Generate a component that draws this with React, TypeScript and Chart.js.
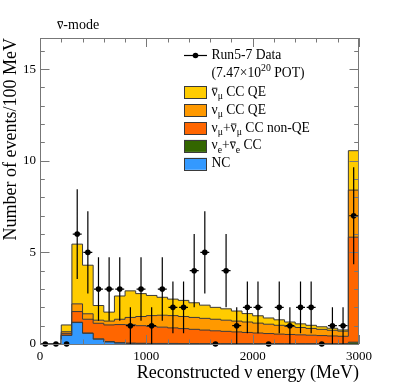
import React, { useEffect, useRef } from 'react';
import { Chart, registerables } from 'chart.js';

Chart.register(...registerables);

// ---------------- data ----------------
const binEdges = [0, 100, 200, 300, 400, 500, 600, 700, 800, 900, 1000, 1100, 1200, 1300, 1400, 1500,
  1600, 1700, 1800, 1900, 2000, 2100, 2200, 2300, 2400, 2500, 2600, 2700, 2800, 2900, 3000];

const binCenters = [50, 150, 250, 350, 450, 550, 650, 750, 850, 950, 1050, 1150, 1250, 1350, 1450,
  1550, 1650, 1750, 1850, 1950, 2050, 2150, 2250, 2350, 2450, 2550, 2650, 2750, 2850, 2950];

const dataCounts = [0, 0, 0, 6, 5, 3, 3, 3, 1, 3, 1, 3, 2, 2, 4, 5, 0, 4, 1, 2, 2, 0, 2, 1, 2, 2, 0, 1, 1, 7];
const dataErrors = [0, 0, 0, 2.45, 2.24, 1.73, 1.73, 1.73, 1, 1.73, 1, 1.73, 1.41, 1.41, 2, 2.24, 0, 2, 1,
  1.41, 1.41, 0, 1.41, 1, 1.41, 1.41, 0, 1, 1, 2.65];

// stacked MC components (events per bin), bottom to top
const ncValues = [0, 0, 0.47, 1.17, 0.58, 0.26, 0.11, 0.05, 0.03, 0.02, 0.01, 0.01, 0.01, 0, 0, 0,
  0, 0, 0, 0, 0, 0, 0, 0, 0, 0, 0, 0, 0, 0];
const nueCCValues = [0, 0, 0.01, 0.02, 0.02, 0.02, 0.02, 0.02, 0.02, 0.02, 0.02, 0.02, 0.02, 0.02, 0.02,
  0.02, 0.02, 0.02, 0.02, 0.02, 0.02, 0.02, 0.02, 0.02, 0.02, 0.02, 0.02, 0.02, 0.02, 0.1];
const nonQEValues = [0, 0, 0.1, 0.58, 0.75, 0.85, 0.91, 0.99, 1.0, 0.96, 0.93, 0.89, 0.85, 0.82, 0.78,
  0.74, 0.7, 0.67, 0.64, 0.61, 0.58, 0.55, 0.52, 0.5, 0.48, 0.46, 0.44, 0.42, 0.4, 5.73];
const numuQEValues = [0, 0, 0.09, 0.42, 0.3, 0.17, 0.21, 0.29, 0.4, 0.5, 0.59, 0.65, 0.67, 0.66, 0.65,
  0.64, 0.63, 0.61, 0.59, 0.57, 0.54, 0.51, 0.48, 0.44, 0.4, 0.37, 0.34, 0.31, 0.28, 2.57];
const numubarQEValues = [0, 0, 0.37, 3.26, 2.65, 0.8, 0.49, 1.27, 1.45, 1.25, 1.1, 0.98, 0.9, 0.88, 0.8,
  0.72, 0.65, 0.62, 0.55, 0.46, 0.4, 0.34, 0.3, 0.24, 0.2, 0.17, 0.14, 0.11, 0.07, 2.15];

const xMajorTicks = [0, 1000, 2000, 3000];
const yMajorTicks = [0, 5, 10, 15];

const X_MIN = 0;
const X_MAX = 3000;
const Y_MIN = 0;
const Y_MAX = 16.7;

const FONT = '"Liberation Serif", "Times New Roman", serif';
const EDGE = '#3a3a3a';

const layers = [
  { name: 'NC', values: ncValues, color: '#3399ff' },
  { name: 'nue', values: nueCCValues, color: '#336600' },
  { name: 'nonQE', values: nonQEValues, color: '#ff6600' },
  { name: 'numuQE', values: numuQEValues, color: '#ff9900' },
  { name: 'numubarQE', values: numubarQEValues, color: '#ffcc00' },
];

function cumulate(arrs: number[][]): number[][] {
  const out: number[][] = [];
  let run = arrs[0].map(() => 0);
  for (const a of arrs) {
    run = run.map((v, i) => v + a[i]);
    out.push(run.slice());
  }
  return out;
}

function stepPoints(vals: number[]) {
  const pts = vals.map((v, i) => ({ x: binEdges[i], y: v }));
  pts.push({ x: binEdges[vals.length], y: vals[vals.length - 1] });
  return pts;
}

type Seg = { t: string; sub?: boolean; sup?: boolean; bar?: boolean };

function drawRich(ctx: CanvasRenderingContext2D, segs: Seg[], x: number, y: number, size: number) {
  let cx = x;
  for (const s of segs) {
    const fs = s.sub || s.sup ? size * 0.72 : size;
    ctx.font = `${fs}px ${FONT}`;
    const dy = s.sub ? size * 0.25 : s.sup ? -size * 0.47 : 0;
    ctx.fillText(s.t, cx, y + dy);
    const w = ctx.measureText(s.t).width;
    if (s.bar) {
      ctx.save();
      ctx.lineWidth = 0.9;
      ctx.beginPath();
      ctx.moveTo(cx + 0.5, y - size * 0.55);
      ctx.lineTo(cx + w - 0.3, y - size * 0.55);
      ctx.stroke();
      ctx.restore();
    }
    cx += w;
  }
}

const decorPlugin = {
  id: 'decor',
  afterDatasetsDraw(chart: any) {
    const { ctx, chartArea: a, scales } = chart;
    const xs = scales.x;
    const ys = scales.y;
    ctx.save();
    // frame
    ctx.strokeStyle = '#777';
    ctx.lineWidth = 1;
    ctx.strokeRect(Math.round(a.left) + 0.5, Math.round(a.top) + 0.5, Math.round(a.right - a.left) - 1, Math.round(a.bottom - a.top));
    // inward ticks
    ctx.beginPath();
    for (let v = X_MIN; v <= X_MAX; v += 200) {
      const px = Math.round(xs.getPixelForValue(v)) + 0.5;
      const len = xMajorTicks.includes(v) ? 9 : 4.5;
      ctx.moveTo(px, a.bottom);
      ctx.lineTo(px, a.bottom - len);
      ctx.moveTo(px, a.top);
      ctx.lineTo(px, a.top + len);
    }
    for (let v = 0; v <= 16; v += 1) {
      const py = Math.round(ys.getPixelForValue(v)) + 0.5;
      const len = yMajorTicks.includes(v) ? 9.5 : 4.8;
      ctx.moveTo(a.left, py);
      ctx.lineTo(a.left + len, py);
      ctx.moveTo(a.right, py);
      ctx.lineTo(a.right - len, py);
    }
    ctx.stroke();
    // error bars
    ctx.strokeStyle = '#000';
    ctx.lineWidth = 1.2;
    ctx.beginPath();
    binCenters.forEach((c, i) => {
      const n = dataCounts[i];
      if (n <= 0) return;
      const e = dataErrors[i];
      const px = xs.getPixelForValue(c);
      const py = ys.getPixelForValue(n);
      ctx.moveTo(px, ys.getPixelForValue(n - e));
      ctx.lineTo(px, ys.getPixelForValue(n + e));
      ctx.moveTo(xs.getPixelForValue(c - 42), py);
      ctx.lineTo(xs.getPixelForValue(c + 42), py);
    });
    ctx.stroke();
    ctx.restore();
  },
  afterDraw(chart: any) {
    const { ctx } = chart;
    ctx.save();
    ctx.fillStyle = '#000';
    ctx.strokeStyle = '#000';
    ctx.textBaseline = 'alphabetic';
    ctx.textAlign = 'left';
    // title
    drawRich(ctx, [{ t: 'ν', bar: true }, { t: '-mode' }], 57, 29.3, 14);

    // legend
    const tx = 211.5;
    const bx = 184;
    const bw = 23;
    const fs = 13.6;
    // data entry
    ctx.lineWidth = 1.2;
    ctx.beginPath();
    ctx.moveTo(bx, 55.5);
    ctx.lineTo(bx + bw, 55.5);
    ctx.stroke();
    ctx.beginPath();
    ctx.arc(bx + bw / 2, 55.5, 2.8, 0, Math.PI * 2);
    ctx.fill();
    drawRich(ctx, [{ t: 'Run5-7 Data' }], tx, 59.3, fs);
    drawRich(ctx, [{ t: '(7.47×10' }, { t: '20', sup: true }, { t: ' POT)' }], tx, 77.2, fs);

    const rows: { color: string; segs: Seg[] }[] = [
      { color: '#ffcc00', segs: [{ t: 'ν', bar: true }, { t: 'μ', sub: true }, { t: ' CC QE' }] },
      { color: '#ff9900', segs: [{ t: 'ν' }, { t: 'μ', sub: true }, { t: ' CC QE' }] },
      { color: '#ff6600', segs: [{ t: 'ν' }, { t: 'μ', sub: true }, { t: '+' }, { t: 'ν', bar: true }, { t: 'μ', sub: true }, { t: ' CC non-QE' }] },
      { color: '#336600', segs: [{ t: 'ν' }, { t: 'e', sub: true }, { t: '+' }, { t: 'ν', bar: true }, { t: 'e', sub: true }, { t: ' CC' }] },
      { color: '#3399ff', segs: [{ t: 'NC' }] },
    ];
    rows.forEach((r, i) => {
      const base = 95.7 + i * 17.9;
      ctx.fillStyle = r.color;
      ctx.fillRect(bx, base - 9.5, bw, 12);
      ctx.strokeStyle = EDGE;
      ctx.lineWidth = 1;
      ctx.strokeRect(bx + 0.5, Math.round(base - 9.5) + 0.5, bw - 1, 12);
      ctx.fillStyle = '#000';
      ctx.strokeStyle = '#000';
      drawRich(ctx, r.segs, tx, base, fs);
    });
    ctx.restore();
  },
};

export default function App() {
  const ref = useRef<HTMLCanvasElement>(null);
  useEffect(() => {
    const cum = cumulate(layers.map((l) => l.values));
    const stackSets = layers.map((l, i) => ({
      type: 'line' as const,
      label: l.name,
      data: stepPoints(cum[i]),
      stepped: 'before' as const,
      fill: i === 0 ? 'origin' : '-1',
      backgroundColor: l.color,
      borderColor: EDGE,
      borderWidth: 1,
      pointRadius: 0,
      pointHoverRadius: 0,
      order: 1,
    }));
    const dataSet = {
      type: 'line' as const,
      label: 'Data',
      data: binCenters.map((c, i) => ({ x: c, y: dataCounts[i] })),
      showLine: false,
      pointRadius: 2.8,
      pointHoverRadius: 2.8,
      pointBackgroundColor: '#000',
      pointBorderWidth: 0,
      borderColor: '#000',
      clip: false as any,
      order: 0,
    };
    const chart = new Chart(ref.current!, {
      type: 'line',
      data: { datasets: [...stackSets, dataSet] as any },
      options: {
        animation: false,
        responsive: false,
        maintainAspectRatio: false,
        events: [],
        layout: { padding: { left: 0, right: 40, top: 38, bottom: 0 } },
        plugins: { legend: { display: false }, tooltip: { enabled: false }, title: { display: false } },
        scales: {
          x: {
            type: 'linear',
            min: X_MIN,
            max: X_MAX,
            grid: { display: false, drawTicks: false },
            border: { display: false },
            ticks: {
              stepSize: 1000,
              padding: 5,
              maxRotation: 0,
              autoSkip: false,
              color: '#000',
              font: { family: FONT, size: 13 },
              callback: (v: any) => String(v),
            },
            afterBuildTicks: (s: any) => {
              s.ticks = s.ticks.filter((t: any) => xMajorTicks.includes(t.value));
            },
            title: {
              display: true,
              text: 'Reconstructed ν energy (MeV)',
              align: 'end',
              color: '#000',
              padding: 0,
              font: { family: FONT, size: 18 },
            },
            afterFit: (s: any) => {
              s.height = 40;
            },
          },
          y: {
            type: 'linear',
            min: Y_MIN,
            max: Y_MAX,
            grid: { display: false, drawTicks: false },
            border: { display: false },
            ticks: {
              stepSize: 5,
              padding: 4,
              color: '#000',
              font: { family: FONT, size: 13 },
              callback: (v: any) => String(v),
            },
            afterBuildTicks: (s: any) => {
              s.ticks = s.ticks.filter((t: any) => yMajorTicks.includes(t.value));
            },
            title: {
              display: true,
              text: 'Number of events/100 MeV',
              align: 'end',
              color: '#000',
              padding: 0,
              font: { family: FONT, size: 18 },
            },
            afterFit: (s: any) => {
              s.width = 40;
            },
          },
        },
      },
      plugins: [decorPlugin],
    } as any);
    return () => chart.destroy();
  }, []);
  return (
    <div style={{ position: 'fixed', left: 0, top: 0, width: 399, height: 384, background: '#fff' }}>
      <canvas ref={ref} width={399} height={384} style={{ display: 'block' }} />
    </div>
  );
}
